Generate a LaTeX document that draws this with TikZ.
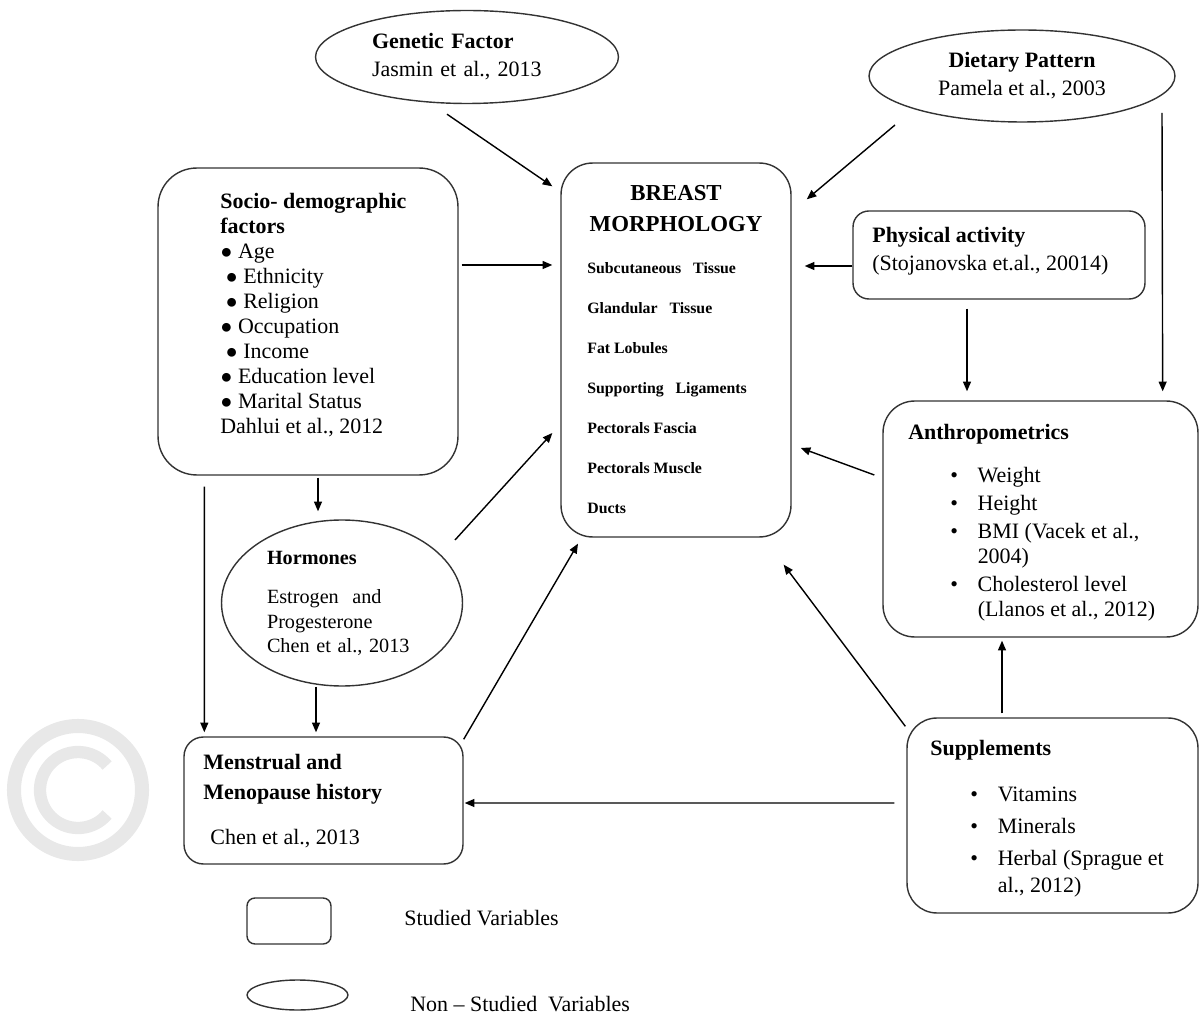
\documentclass[tikz,border=0pt]{standalone}
\usepackage{fontspec}
\setmainfont{Liberation Serif}
\usetikzlibrary{arrows.meta,positioning,calc,shapes.geometric}

\newcommand{\itm}{\makebox[15.6pt][l]{\textbullet}}
\newcommand{\sdot}{{\fontsize{11.5}{8}\selectfont ●}}

\begin{document}
\begin{tikzpicture}[x=0.02cm, y=-0.02cm,
  studied/.style={draw=black!80, line width=0.8pt, inner sep=0pt},
  nonstudied/.style={draw=black!80, line width=0.8pt, ellipse, inner sep=0pt},
  txt/.style={anchor=north west, inner sep=0pt, align=left,
    font=\fontsize{12.5}{16}\selectfont},
  arr/.style={-{Triangle[length=5.5pt,width=4.5pt]}, line width=0.8pt}]
  \useasboundingbox (0,0) rectangle (1200,1016);

  % watermark
  \draw[gray!18, line width=8pt] (78,790) circle (64);
  \draw[gray!18, line width=7pt] (78,790) ++(40:38) arc[start angle=40, end angle=320, radius=38];

  % non studied variables
  \node[nonstudied, minimum width=6.06cm, minimum height=1.86cm, align=left,
    text width=3.8cm, font=\fontsize{12.5}{16}\selectfont] (gen) at (467,57)
    {\textbf{Genetic Factor}\\Jasmin et al., 2013};
  \node[nonstudied, minimum width=6.12cm, minimum height=1.84cm, align=center,
    font=\fontsize{12.5}{16}\selectfont] (diet) at (1022,76)
    {\textbf{Dietary Pattern}\\Pamela et al., 2003};
  \node[nonstudied, minimum width=4.82cm, minimum height=3.32cm, align=left,
    text width=3cm, font=\fontsize{11.5}{13.7}\selectfont] (horm) at (342,603)
    {\textbf{Hormones}\\[9pt]Estrogen\ \ and\\Progesterone\\Chen et al., 2013};

  % studied variables
  \node[studied, rounded corners=22pt, minimum width=6cm, minimum height=6.14cm]
    (socio) at (308,321.5) {};
  \node[studied, rounded corners=18pt, minimum width=4.6cm, minimum height=7.48cm]
    (brst) at (676,350) {};
  \node[studied, rounded corners=9pt, minimum width=5.84cm, minimum height=1.76cm]
    (phys) at (999,255) {};
  \node[studied, rounded corners=18pt, minimum width=6.3cm, minimum height=4.72cm]
    (anth) at (1040.5,519) {};
  \node[studied, rounded corners=11pt, minimum width=5.58cm, minimum height=2.54cm]
    (men) at (323.5,800.5) {};
  \node[studied, rounded corners=17pt, minimum width=5.82cm, minimum height=3.9cm]
    (supp) at (1052.5,815.5) {};

  % box texts
  \node[txt, font=\fontsize{12.5}{14.2}\selectfont] (sociotxt) at (220,193)
    {\textbf{Socio- demographic}\\\textbf{factors}\\
     \sdot\ Age\\\hspace*{3pt}\sdot\ Ethnicity\\
     \hspace*{3pt}\sdot\ Religion\\\sdot\ Occupation\\
     \hspace*{3pt}\sdot\ Income\\\sdot\ Education level\\
     \sdot\ Marital Status\\Dahlui et al., 2012};
  \node[align=center, inner sep=0pt, font=\fontsize{13}{17.6}\selectfont\bfseries]
    (brsttitle) at (676,209) {BREAST\\MORPHOLOGY};
  \node[txt, font=\fontsize{9}{22.8}\selectfont\bfseries] (brsttxt) at (587,262)
    {Subcutaneous\ \ \ Tissue\\Glandular\ \ \ Tissue\\Fat Lobules\\
     Supporting\ \ \ Ligaments\\Pectorals Fascia\\Pectorals Muscle\\Ducts};
  \node[txt] (phystxt) at (872,227)
    {\textbf{Physical activity}\\(Stojanovska et.al., 20014)};
  \node[txt, font=\fontsize{12.5}{14}\selectfont] (anthtxt) at (908,424)
    {\textbf{Anthropometrics}\\[10.5pt]
     \hspace*{23.9pt}\itm Weight\\[2pt]
     \hspace*{23.9pt}\itm Height\\[2pt]
     \hspace*{23.9pt}\itm BMI (Vacek et al.,\\
     \hspace*{39.5pt}2004)\\[2pt]
     \hspace*{23.9pt}\itm Cholesterol level\\
     \hspace*{39.5pt}(Llanos et al., 2012)};
  \node[txt, font=\fontsize{12.5}{15.4}\selectfont] (supptxt) at (930,740)
    {\textbf{Supplements}\\[10.8pt]
     \hspace*{22.8pt}\itm Vitamins\\[2.8pt]
     \hspace*{22.8pt}\itm Minerals\\[2.8pt]
     \hspace*{22.8pt}\itm Herbal (Sprague et\\
     \hspace*{38.4pt}al., 2012)};
  \node[txt, font=\fontsize{12.5}{17}\selectfont] (mentxt) at (203,754)
    {\textbf{Menstrual and}\\\textbf{Menopause history}\\[8.6pt]
     \hspace*{4pt}Chen et al., 2013};

  % connectors
  \draw[arr] ($(gen.south)+(-20,10)$) -- ($(brst.north west)+(-8,24)$);
  \draw[arr] ($(diet.center)+(-127,49)$) -- ($(brst.north east)+(15,37)$);
  \draw[arr] ($(diet.center)+(140,37)$) -- ($(anth.north east)+(-36,-9)$);
  \draw[arr] ($(phys.west)+(0,11)$) -- ($(brst.east)+(13,-84)$);
  \draw[arr] ($(phys.south)+(-32,9)$) -- ($(anth.north)+(-73.5,-9)$);
  \draw[arr] ($(socio.east)+(3,-56.5)$) -- ($(brst.west)+(-8,-85)$);
  \draw[arr] ($(socio.south)+(10,2)$) -- ($(horm.north)+(-24,-8)$);
  \draw[arr] ($(socio.south west)+(47,11)$) -- ($(men.north west)+(21,-4)$);
  \draw[arr] ($(horm.center)+(113,-63)$) -- ($(brst.west)+(-8,83)$);
  \draw[arr] ($(horm.south)+(-26,0)$) -- ($(men.north)+(-7.5,-4)$);
  \draw[arr] ($(men.north east)+(0,3)$) -- ($(brst.south)+(-98,6)$);
  \draw[arr] ($(anth.west)+(-8,-44)$) -- ($(brst.east)+(9,98)$);
  \draw[arr] ($(supp.north west)+(-1,9)$) -- ($(brst.south east)+(-8,27)$);
  \draw[arr] ($(supp.north)+(-50.5,-4)$) -- ($(anth.south)+(-38.5,3)$);
  \draw[arr] ($(supp.west)+(-12,-12.5)$) -- ($(men.east)+(1,2.5)$);

  % legend
  \node[studied, rounded corners=4.5pt, minimum width=1.68cm, minimum height=0.92cm]
    (keybox) at (289,921) {};
  \node[anchor=west, inner sep=0pt, font=\fontsize{12.5}{14}\selectfont]
    (keyboxtxt) at (404,918) {Studied Variables};
  \node[nonstudied, minimum width=2.02cm, minimum height=0.6cm] (keyell) at (297.5,995) {};
  \node[anchor=west, inner sep=0pt, font=\fontsize{12.5}{14}\selectfont]
    (keyelltxt) at (410,1004) {Non -- Studied\ \ Variables};
\end{tikzpicture}
\end{document}
